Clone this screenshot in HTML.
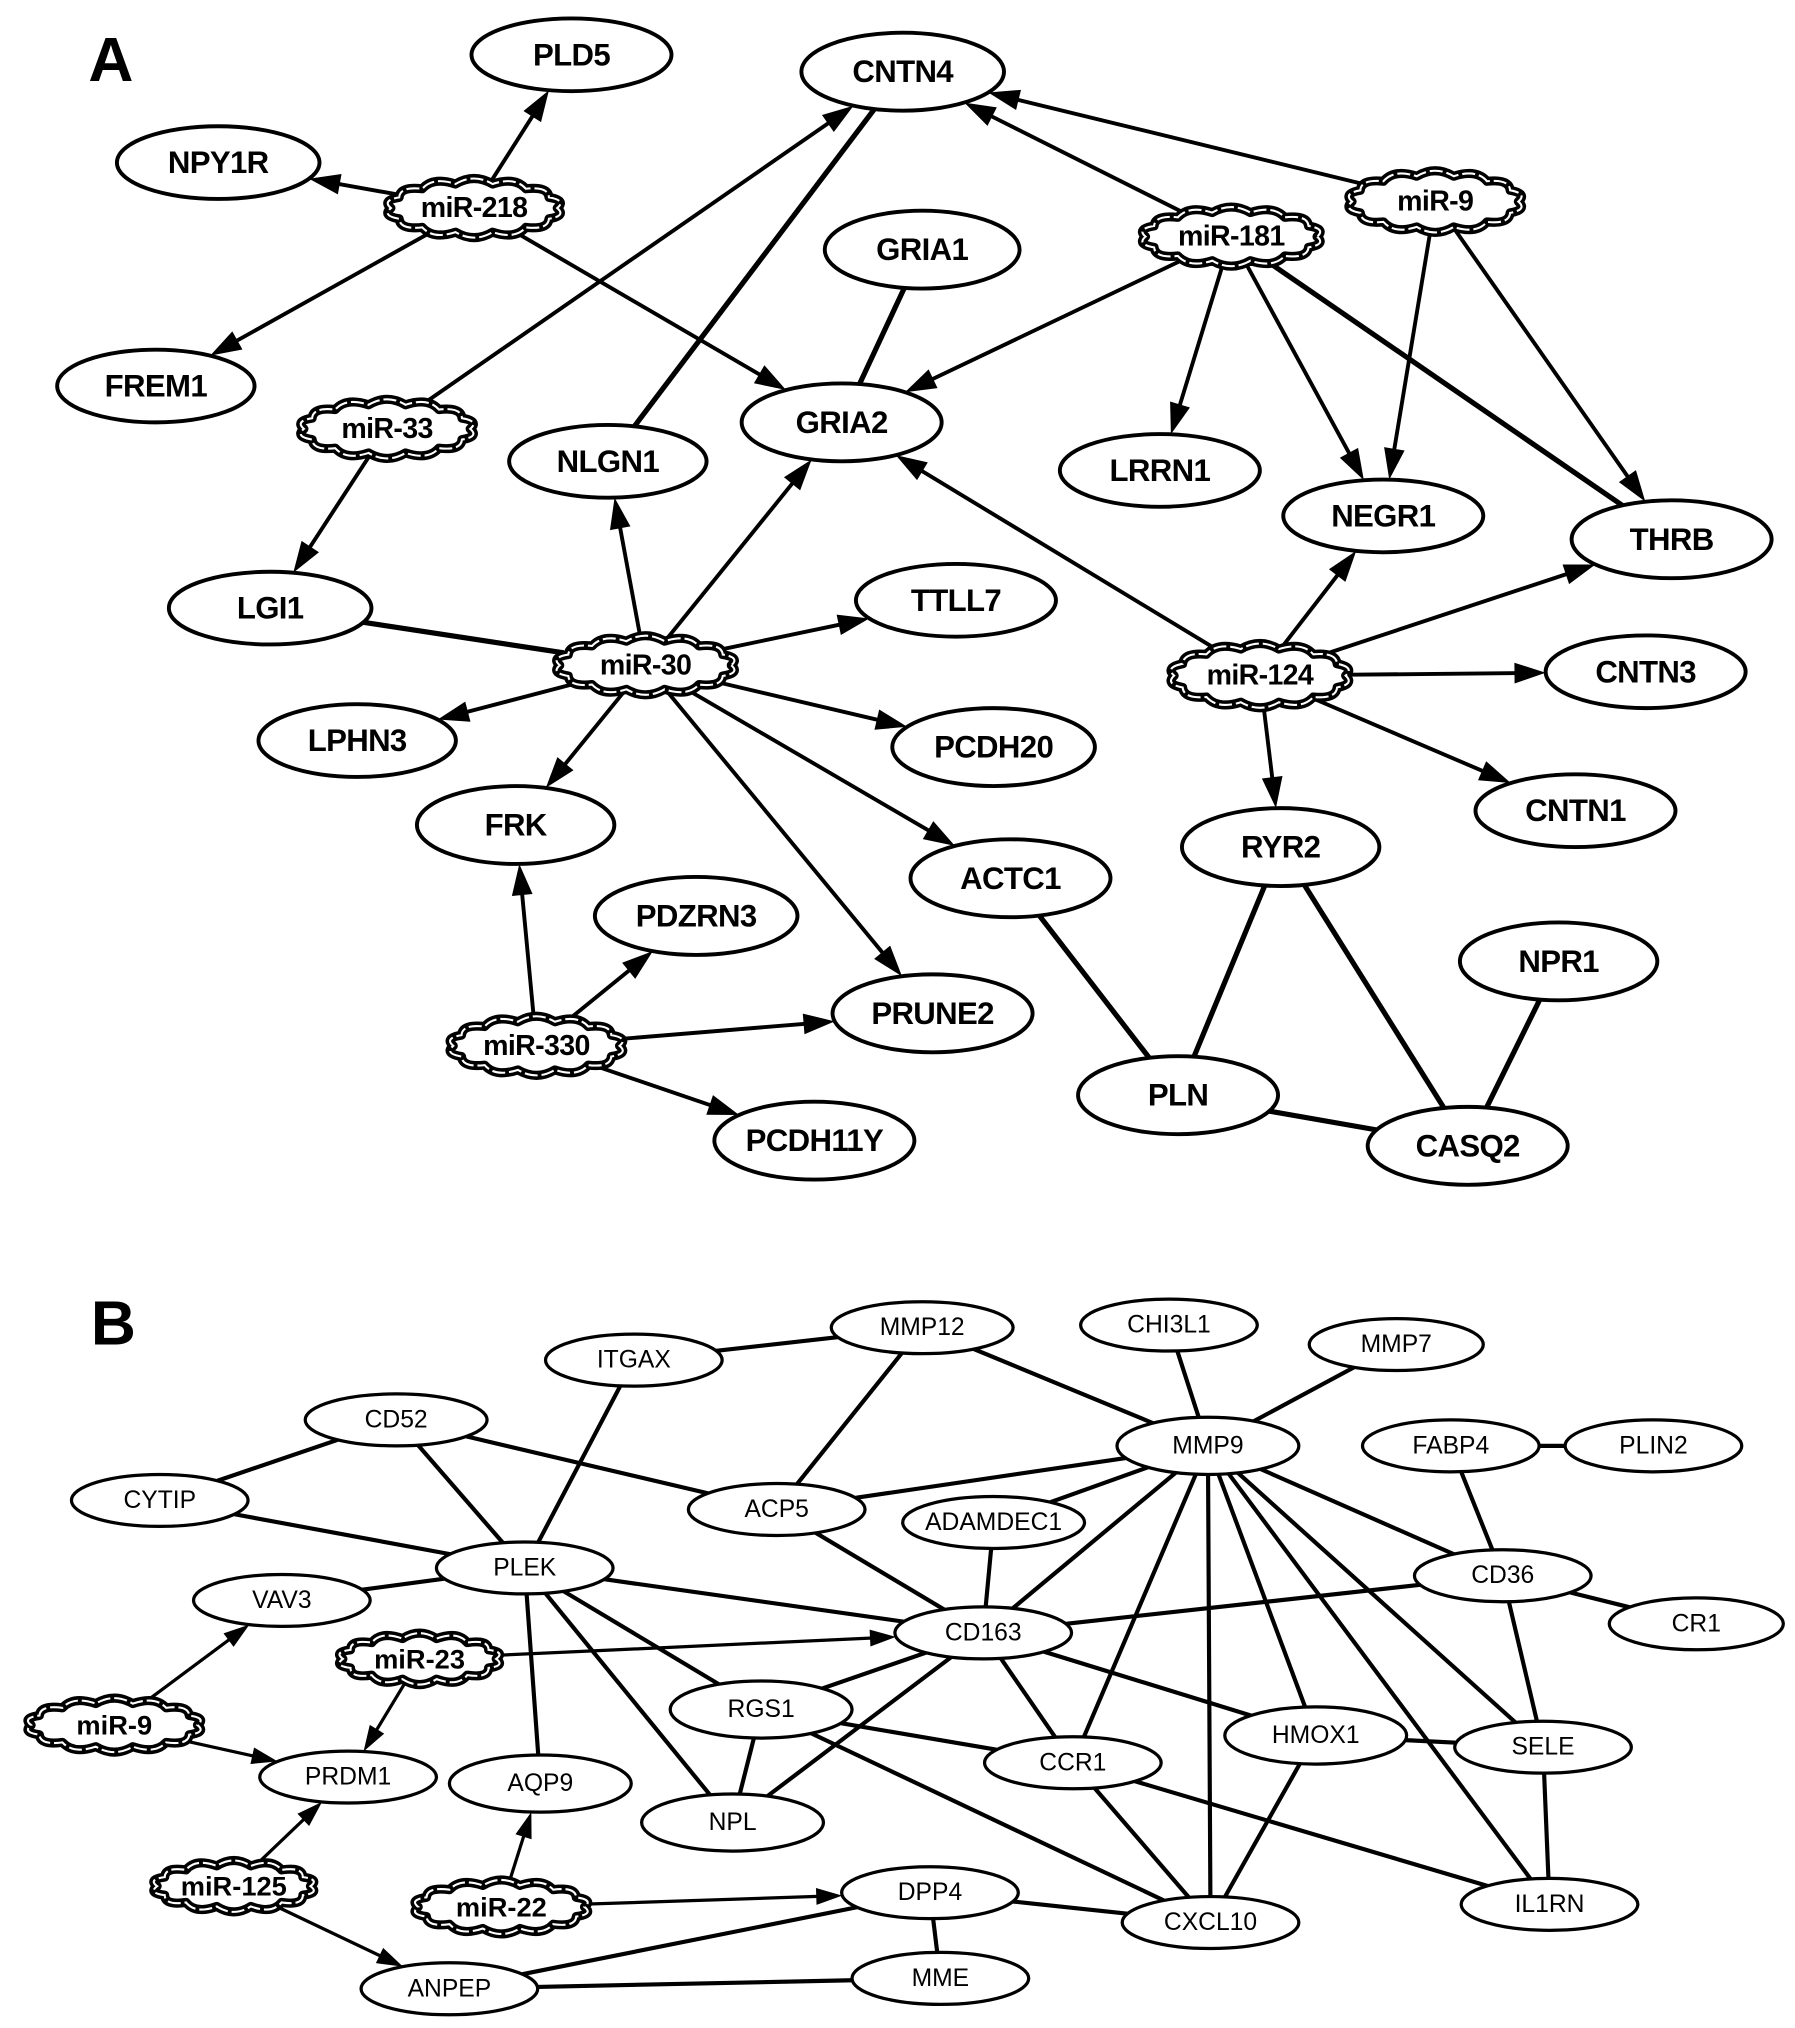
<!DOCTYPE html>
<html><head><meta charset="utf-8"><style>
html,body{margin:0;padding:0;background:#fff;}
svg{display:block;}
.a{font-family:"Liberation Sans",Arial,sans-serif;font-size:24px;text-anchor:middle;dominant-baseline:central;fill:#000;font-weight:bold;letter-spacing:-0.5px}
.b{font-family:"Liberation Sans",Arial,sans-serif;font-size:19px;text-anchor:middle;dominant-baseline:central;fill:#000}
.m{font-weight:bold;font-size:22px}
.bm{font-weight:bold;font-size:21px}
.L{font-family:"Liberation Sans",Arial,sans-serif;font-size:48px;font-weight:bold}
</style></head><body>
<svg id="s" width="1795" height="2028" viewBox="0 0 1382 1561" xmlns="http://www.w3.org/2000/svg">
<rect width="1382" height="1561" fill="#fff"/>
<g id="edges"></g>
<g id="nodes"></g>
<g id="labels">
<text class="L" x="68" y="62">A</text>
<text class="L" x="70" y="1035">B</text>
<text class="a" x="440" y="42">PLD5</text>
<text class="a" x="695" y="55">CNTN4</text>
<text class="a" x="168" y="125">NPY1R</text>
<text class="a m" x="365" y="160">miR-218</text>
<text class="a m" x="1105" y="155">miR-9</text>
<text class="a m" x="948" y="182">miR-181</text>
<text class="a" x="710" y="192">GRIA1</text>
<text class="a" x="120" y="297">FREM1</text>
<text class="a" x="648" y="325">GRIA2</text>
<text class="a m" x="298" y="330">miR-33</text>
<text class="a" x="468" y="355">NLGN1</text>
<text class="a" x="893" y="362">LRRN1</text>
<text class="a" x="1065" y="397">NEGR1</text>
<text class="a" x="1287" y="415">THRB</text>
<text class="a" x="208" y="468">LGI1</text>
<text class="a" x="736" y="462">TTLL7</text>
<text class="a m" x="497" y="512">miR-30</text>
<text class="a m" x="970" y="520">miR-124</text>
<text class="a" x="1267" y="517">CNTN3</text>
<text class="a" x="275" y="570">LPHN3</text>
<text class="a" x="765" y="575">PCDH20</text>
<text class="a" x="397" y="635">FRK</text>
<text class="a" x="1213" y="624">CNTN1</text>
<text class="a" x="986" y="652">RYR2</text>
<text class="a" x="778" y="676">ACTC1</text>
<text class="a" x="536" y="705">PDZRN3</text>
<text class="a" x="1200" y="740">NPR1</text>
<text class="a" x="718" y="780">PRUNE2</text>
<text class="a m" x="413" y="805">miR-330</text>
<text class="a" x="907" y="843">PLN</text>
<text class="a" x="1130" y="882">CASQ2</text>
<text class="a" x="627" y="878">PCDH11Y</text>

<text class="b" x="710" y="1022">MMP12</text>
<text class="b" x="900" y="1020">CHI3L1</text>
<text class="b" x="1075" y="1035">MMP7</text>
<text class="b" x="488" y="1047">ITGAX</text>
<text class="b" x="305" y="1093">CD52</text>
<text class="b" x="930" y="1113">MMP9</text>
<text class="b" x="1117" y="1113">FABP4</text>
<text class="b" x="1273" y="1113">PLIN2</text>
<text class="b" x="123" y="1155">CYTIP</text>
<text class="b" x="598" y="1162">ACP5</text>
<text class="b" x="765" y="1172">ADAMDEC1</text>
<text class="b" x="404" y="1207">PLEK</text>
<text class="b" x="1157" y="1213">CD36</text>
<text class="b" x="217" y="1232">VAV3</text>
<text class="b" x="757" y="1257">CD163</text>
<text class="b" x="1306" y="1250">CR1</text>
<text class="b bm" x="323" y="1277">miR-23</text>
<text class="b bm" x="88" y="1328">miR-9</text>
<text class="b" x="586" y="1316">RGS1</text>
<text class="b" x="1013" y="1336">HMOX1</text>
<text class="b" x="1188" y="1345">SELE</text>
<text class="b" x="826" y="1357">CCR1</text>
<text class="b" x="268" y="1368">PRDM1</text>
<text class="b" x="416" y="1373">AQP9</text>
<text class="b" x="564" y="1403">NPL</text>
<text class="b bm" x="180" y="1452">miR-125</text>
<text class="b bm" x="386" y="1468">miR-22</text>
<text class="b" x="716" y="1457">DPP4</text>
<text class="b" x="1193" y="1466">IL1RN</text>
<text class="b" x="932" y="1480">CXCL10</text>
<text class="b" x="346" y="1531">ANPEP</text>
<text class="b" x="724" y="1523">MME</text>
</g>
</svg>
<script>
var N={
PLD5:[440,42,77,28],CNTN4:[695,55,78,30],NPY1R:[168,125,78,28],m218:[365,160,68,22,1],m9:[1105,155,68,23,1],m181:[948,182,70,22,1],
GRIA1:[710,192,75,30],FREM1:[120,297,76,28],GRIA2:[648,325,77,30],m33:[298,330,68,22,1],NLGN1:[468,355,76,28],LRRN1:[893,362,77,28],
NEGR1:[1065,397,77,28],THRB:[1287,415,77,30],LGI1:[208,468,78,28],TTLL7:[736,462,77,28],m30:[497,512,70,22,1],m124:[970,520,70,24,1],
CNTN3:[1267,517,77,28],LPHN3:[275,570,76,28],PCDH20:[765,575,78,30],FRK:[397,635,76,30],CNTN1:[1213,624,77,28],RYR2:[986,652,76,30],
ACTC1:[778,676,77,30],PDZRN3:[536,705,78,30],NPR1:[1200,740,76,30],PRUNE2:[718,780,77,30],m330:[413,805,68,22,1],PLN:[907,843,77,30],
CASQ2:[1130,882,77,30],PCDH11Y:[627,878,77,30],
MMP12:[710,1022,70,20],CHI3L1:[900,1020,68,20],MMP7:[1075,1035,67,20],ITGAX:[488,1047,68,20],CD52:[305,1093,70,20],MMP9:[930,1113,70,22],
FABP4:[1117,1113,68,20],PLIN2:[1273,1113,68,20],CYTIP:[123,1155,68,20],ACP5:[598,1162,68,20],ADAMDEC1:[765,1172,70,20],PLEK:[404,1207,68,20],
CD36:[1157,1213,68,20],VAV3:[217,1232,68,20],CD163:[757,1257,68,20],CR1:[1306,1250,67,20],b23:[323,1277,63,19,1],b9:[88,1328,68,20,1],
RGS1:[586,1316,70,22],HMOX1:[1013,1336,70,22],SELE:[1188,1345,68,20],CCR1:[826,1357,68,20],PRDM1:[268,1368,68,20],AQP9:[416,1373,70,22],
NPL:[564,1403,70,22],b125:[180,1452,63,19,1],b22:[386,1468,68,20,1],DPP4:[716,1457,68,20],IL1RN:[1193,1466,68,20],CXCL10:[932,1480,68,20],
ANPEP:[346,1531,68,20],MME:[724,1523,68,20]};
var A=[["m218","PLD5"],["m218","NPY1R"],["m218","FREM1"],["m218","GRIA2"],["m33","CNTN4"],["m33","LGI1"],["m181","CNTN4"],["m181","GRIA2"],["m181","LRRN1"],["m181","NEGR1"],["m9","CNTN4"],["m9","NEGR1"],["m9","THRB"],
["m30","NLGN1"],["m30","GRIA2"],["m30","TTLL7"],["m30","LPHN3"],["m30","FRK"],["m30","PCDH20"],["m30","ACTC1"],["m30","PRUNE2"],
["m124","GRIA2"],["m124","NEGR1"],["m124","THRB"],["m124","CNTN3"],["m124","CNTN1"],["m124","RYR2"],
["m330","FRK"],["m330","PDZRN3"],["m330","PRUNE2"],["m330","PCDH11Y"]];
var AL=[["NLGN1","CNTN4"],["GRIA1","GRIA2"],["m181","THRB"],["LGI1","m30"],["ACTC1","PLN"],["RYR2","PLN"],["RYR2","CASQ2"],["NPR1","CASQ2"],["PLN","CASQ2"]];
var B=[["b23","CD163"],["b23","PRDM1"],["b9","VAV3"],["b9","PRDM1"],["b125","PRDM1"],["b125","ANPEP"],["b22","AQP9"],["b22","DPP4"]];
var BL=[["ITGAX","MMP12"],["MMP12","MMP9"],["MMP12","ACP5"],["CHI3L1","MMP9"],["MMP7","MMP9"],["ITGAX","PLEK"],["CD52","PLEK"],["CD52","ACP5"],["CYTIP","CD52"],["CYTIP","PLEK"],["ACP5","MMP9"],["ACP5","CD163"],["ADAMDEC1","MMP9"],["ADAMDEC1","CD163"],["MMP9","CD163"],["MMP9","CCR1"],["MMP9","CXCL10"],["MMP9","HMOX1"],["MMP9","IL1RN"],["MMP9","SELE"],["MMP9","CD36"],["FABP4","PLIN2"],["FABP4","CD36"],["CD36","SELE"],["CD36","CR1"],["CD36","CD163"],["VAV3","PLEK"],["PLEK","CD163"],["PLEK","RGS1"],["PLEK","NPL"],["PLEK","AQP9"],["RGS1","CD163"],["RGS1","NPL"],["RGS1","CCR1"],["RGS1","CXCL10"],["NPL","CD163"],["CD163","CCR1"],["CD163","HMOX1"],["CCR1","CXCL10"],["CCR1","IL1RN"],["HMOX1","CXCL10"],["HMOX1","SELE"],["SELE","IL1RN"],["DPP4","CXCL10"],["DPP4","MME"],["DPP4","ANPEP"],["ANPEP","MME"]];
var NS="http://www.w3.org/2000/svg",E=document.getElementById("edges"),G=document.getElementById("nodes");
function mk(t,a,p){var e=document.createElementNS(NS,t);for(var k in a)e.setAttribute(k,a[k]);p.appendChild(e);return e;}
function bd(n,dx,dy){var t=1/Math.sqrt(Math.pow(dx/n[2],2)+Math.pow(dy/n[3],2));return [n[0]+t*dx,n[1]+t*dy];}
function edge(a,b,arrow,w,al,aw){var p=N[a],q=N[b],dx=q[0]-p[0],dy=q[1]-p[1];var s=bd(p,dx,dy),e=bd(q,-dx,-dy);
var L=Math.hypot(e[0]-s[0],e[1]-s[1]),ux=(e[0]-s[0])/L,uy=(e[1]-s[1])/L;var ex=e[0],ey=e[1];
if(arrow){ex=e[0]-ux*al*0.8;ey=e[1]-uy*al*0.8;}
mk("line",{x1:s[0],y1:s[1],x2:ex,y2:ey,stroke:"#000","stroke-width":w},E);
if(arrow){var bx=e[0]-ux*al,by=e[1]-uy*al;mk("polygon",{points:e[0]+","+e[1]+" "+(bx-uy*aw)+","+(by+ux*aw)+" "+(bx+uy*aw)+","+(by-ux*aw),fill:"#000"},E);}}
A.forEach(function(x){edge(x[0],x[1],1,3,24,8);});AL.forEach(function(x){edge(x[0],x[1],0,4,0,0);});
B.forEach(function(x){edge(x[0],x[1],1,2.5,20,6.5);});BL.forEach(function(x){edge(x[0],x[1],0,3.2,0,0);});
function cloud(n){var cx=n[0],cy=n[1],rx=n[2]-4,ry=n[3]-3,k=14,d="";
for(var i=0;i<k;i++){var a0=2*Math.PI*i/k,a1=2*Math.PI*(i+1)/k;var x0=cx+rx*Math.cos(a0),y0=cy+ry*Math.sin(a0),x1=cx+rx*Math.cos(a1),y1=cy+ry*Math.sin(a1);
var am=(a0+a1)/2,cxp=cx+(rx+9)*Math.cos(am),cyp=cy+(ry+8)*Math.sin(am);if(i==0)d+="M"+x0+","+y0;d+=" Q"+cxp+","+cyp+" "+x1+","+y1;}d+="Z";
mk("path",{d:d,fill:"#fff",stroke:"#000","stroke-width":7,"stroke-linejoin":"round"},G);
mk("path",{d:d,fill:"none",stroke:"#fff","stroke-width":1.6,"stroke-dasharray":"10 3"},G);}
for(var id in N){var n=N[id];if(n[4])cloud(n);else mk("ellipse",{cx:n[0],cy:n[1],rx:n[2],ry:n[3],fill:"#fff",stroke:"#000","stroke-width":id.length&&n[1]>1000?2.5:3},G);}
</script>
</body></html>
